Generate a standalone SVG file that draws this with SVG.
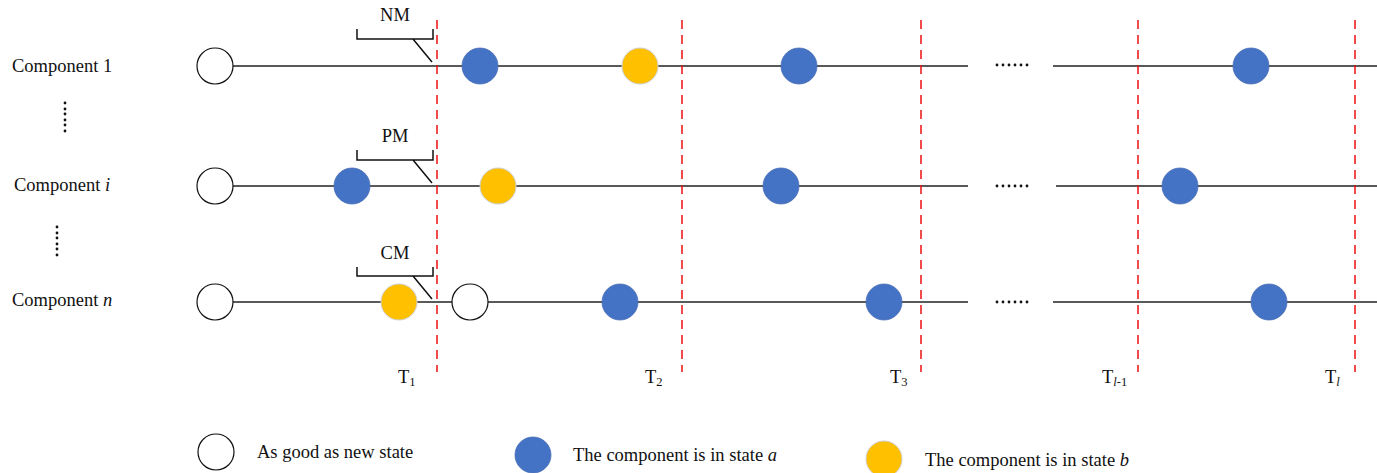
<svg xmlns="http://www.w3.org/2000/svg" width="1377" height="473" viewBox="0 0 1377 473">
<style>
text{font-family:"Liberation Serif","Times New Roman",serif;font-size:18.5px;fill:#111}
.sb{font-size:12.5px}
.tl{stroke:#222;stroke-width:1.5;fill:none}
.br{stroke:#111;stroke-width:1.5;fill:none}
.rd{stroke:#ee1111;stroke-width:1.5;stroke-dasharray:9,6;fill:none}
.w{fill:#fff;stroke:#111;stroke-width:1.2}
.a{fill:#4472C4;stroke:#4a6fb5;stroke-width:0.8}
.b{fill:#FFC000;stroke:#cfcfcf;stroke-width:1}
.dt{fill:#111}
</style>
<g id="connectors">
<line class="tl" x1="233" y1="66" x2="968" y2="66"/>
<line class="tl" x1="1053" y1="66" x2="1377" y2="66"/>
<line class="tl" x1="233" y1="186" x2="968" y2="186"/>
<line class="tl" x1="1056" y1="186" x2="1377" y2="186"/>
<line class="tl" x1="233" y1="302" x2="968" y2="302"/>
<line class="tl" x1="1053" y1="302" x2="1377" y2="302"/>
<path class="br" d="M357,29 V39 H433 V29 M413,39 L432,62"/>
<path class="br" d="M357,150 V160 H433 V150 M413,160 L432,183"/>
<path class="br" d="M357,267 V276 H433 V267 M413,276 L432,299"/>
</g>
<g id="time-lines">
<line class="rd" x1="437" y1="20" x2="437" y2="372"/>
<line class="rd" x1="682" y1="20" x2="682" y2="372"/>
<line class="rd" x1="921" y1="20" x2="921" y2="372"/>
<line class="rd" x1="1138" y1="20" x2="1138" y2="372"/>
<line class="rd" x1="1355" y1="20" x2="1355" y2="372"/>
</g>
<g id="labels">
<text x="12" y="72">Component 1</text>
<text x="14" y="191">Component <tspan font-style="italic">i</tspan></text>
<text x="12" y="306">Component <tspan font-style="italic">n</tspan></text>
<text x="395" y="21" text-anchor="middle">NM</text>
<text x="395" y="142" text-anchor="middle">PM</text>
<text x="395" y="259" text-anchor="middle">CM</text>
<text x="398" y="383">T<tspan class="sb" dy="3">1</tspan></text>
<text x="645" y="383">T<tspan class="sb" dy="3">2</tspan></text>
<text x="890" y="383">T<tspan class="sb" dy="3">3</tspan></text>
<text x="1102" y="383">T<tspan class="sb" dy="3"><tspan font-style="italic">l</tspan>-1</tspan></text>
<text x="1325" y="383">T<tspan class="sb" dy="3" font-style="italic">l</tspan></text>
</g>
<g id="ellipsis">
<g class="dt">
<circle cx="997" cy="65" r="1.4"/><circle cx="1003" cy="65" r="1.4"/><circle cx="1009" cy="65" r="1.4"/><circle cx="1015" cy="65" r="1.4"/><circle cx="1021" cy="65" r="1.4"/><circle cx="1027" cy="65" r="1.4"/>
<circle cx="997" cy="186" r="1.4"/><circle cx="1003" cy="186" r="1.4"/><circle cx="1009" cy="186" r="1.4"/><circle cx="1015" cy="186" r="1.4"/><circle cx="1021" cy="186" r="1.4"/><circle cx="1027" cy="186" r="1.4"/>
<circle cx="997" cy="302" r="1.4"/><circle cx="1003" cy="302" r="1.4"/><circle cx="1009" cy="302" r="1.4"/><circle cx="1015" cy="302" r="1.4"/><circle cx="1021" cy="302" r="1.4"/><circle cx="1027" cy="302" r="1.4"/>
<circle cx="65" cy="103" r="1.4"/><circle cx="65" cy="109" r="1.4"/><circle cx="65" cy="114" r="1.4"/><circle cx="65" cy="120" r="1.4"/><circle cx="65" cy="125" r="1.4"/><circle cx="65" cy="131" r="1.4"/>
<circle cx="57" cy="227" r="1.4"/><circle cx="57" cy="233" r="1.4"/><circle cx="57" cy="238" r="1.4"/><circle cx="57" cy="244" r="1.4"/><circle cx="57" cy="249" r="1.4"/><circle cx="57" cy="255" r="1.4"/>
</g>
</g>
<g id="row1">
<ellipse class="w" cx="215" cy="66" rx="18" ry="18"/>
<ellipse class="a" cx="480" cy="66" rx="18" ry="18"/>
<ellipse class="b" cx="640" cy="66" rx="18" ry="18"/>
<ellipse class="a" cx="799" cy="66" rx="18" ry="18"/>
<ellipse class="a" cx="1251" cy="66" rx="18" ry="18"/>
</g>
<g id="rowi">
<ellipse class="w" cx="215" cy="186" rx="18" ry="18"/>
<ellipse class="a" cx="352" cy="186" rx="18" ry="18"/>
<ellipse class="b" cx="498" cy="186" rx="18" ry="18"/>
<ellipse class="a" cx="781" cy="186" rx="18" ry="18"/>
<ellipse class="a" cx="1180" cy="186" rx="18" ry="18"/>
</g>
<g id="rown">
<ellipse class="w" cx="215" cy="302" rx="18" ry="18"/>
<ellipse class="b" cx="399" cy="302" rx="18" ry="18"/>
<ellipse class="w" cx="470" cy="302" rx="18" ry="18"/>
<ellipse class="a" cx="620" cy="302" rx="18" ry="18"/>
<ellipse class="a" cx="884" cy="302" rx="18" ry="18"/>
<ellipse class="a" cx="1269" cy="302" rx="18" ry="18"/>
</g>
<g id="legend">
<ellipse class="w" cx="216" cy="452" rx="18" ry="18"/>
<text x="257" y="458">As good as new state</text>
<ellipse class="a" cx="533" cy="455" rx="18" ry="18"/>
<text x="573" y="461">The component is in state <tspan font-style="italic">a</tspan></text>
<ellipse class="b" cx="884" cy="459" rx="18" ry="18"/>
<text x="925" y="466">The component is in state <tspan font-style="italic">b</tspan></text>
</g>
</svg>
